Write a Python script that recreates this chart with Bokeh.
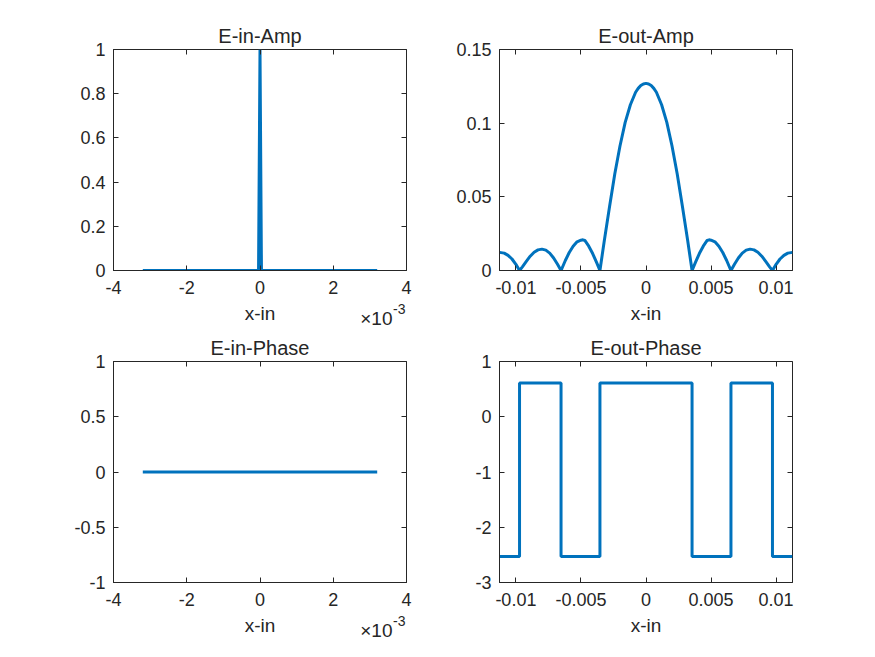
from bokeh.plotting import figure
from bokeh.layouts import column, row
from bokeh.models import (FixedTicker, CustomJSTickFormatter, LinearAxis, Range1d,
                          CustomLabelingPolicy, Title)
from bokeh.embed import file_html
from bokeh.resources import INLINE

# ---------------- data ----------------
# input field (x in metres)
x_in = [-3.2e-3, -0.04e-3, 0.0, 0.04e-3, 3.2e-3]
e_in_amp = [0.0, 0.0, 1.0, 0.0, 0.0]
e_in_phase = [0.0, 0.0, 0.0, 0.0, 0.0]

# output field amplitude
x_out = [-0.01126, -0.0109, -0.0106, -0.0103, -0.0100, -0.00972,
         -0.0095, -0.0092, -0.0089, -0.0086, -0.0083, -0.0080, -0.0077,
         -0.0074, -0.0071, -0.0068, -0.00653,
         -0.0062, -0.0059, -0.0056, -0.0053, -0.0050, -0.00485, -0.0047,
         -0.0044, -0.0041, -0.0038, -0.00354,
         -0.0032, -0.0028, -0.0024, -0.0020, -0.0016, -0.0012, -0.0008,
         -0.0006, -0.0004, -0.0002, 0.0,
         0.0002, 0.0004, 0.0006, 0.0008, 0.0012, 0.0016, 0.0020, 0.0024,
         0.0028, 0.0032, 0.00354,
         0.0038, 0.0041, 0.0044, 0.0047, 0.00485, 0.0050, 0.0053, 0.0056,
         0.0059, 0.0062, 0.00653,
         0.0068, 0.0071, 0.0074, 0.0077, 0.0080, 0.0083, 0.0086, 0.0089,
         0.0092, 0.0095, 0.00972,
         0.0100, 0.0103, 0.0106, 0.0109, 0.01126]
e_out_amp = [0.0123, 0.0118, 0.0103, 0.0078, 0.0042, 0.0,
             0.0025, 0.0062, 0.0097, 0.0124, 0.0140, 0.0145, 0.0138,
             0.0118, 0.0085, 0.0042, 0.0,
             0.0068, 0.0122, 0.0165, 0.0195, 0.0206, 0.0208, 0.0204,
             0.0165, 0.0115, 0.0055, 0.0,
             0.0205, 0.0435, 0.0655, 0.0845, 0.1005, 0.1125, 0.1210,
             0.1236, 0.1255, 0.1266, 0.1270,
             0.1266, 0.1255, 0.1236, 0.1210, 0.1125, 0.1005, 0.0845, 0.0655,
             0.0435, 0.0205, 0.0,
             0.0055, 0.0115, 0.0165, 0.0204, 0.0208, 0.0206, 0.0195, 0.0165,
             0.0122, 0.0068, 0.0,
             0.0042, 0.0085, 0.0118, 0.0138, 0.0145, 0.0140, 0.0124, 0.0097,
             0.0062, 0.0025, 0.0,
             0.0042, 0.0078, 0.0103, 0.0118, 0.0123]

# output field phase: step edges and levels
phase_edges = [-0.01126, -0.00972, -0.00653, -0.00354, 0.00354, 0.00653, 0.00972, 0.01126]
phase_levels = [-2.53, 0.61, -2.53, 0.61, -2.53, 0.61, -2.53, -2.53]

# ticks
ticks_in_x = [-4e-3, -2e-3, 0.0, 2e-3, 4e-3]
ticks_amp_in_y = [0, 0.2, 0.4, 0.6, 0.8, 1.0]
ticks_phase_in_y = [-1, -0.5, 0, 0.5, 1]
ticks_out_x = [-0.01, -0.005, 0.0, 0.005, 0.01]
ticks_amp_out_y = [0, 0.05, 0.1, 0.15]
ticks_phase_out_y = [-3, -2, -1, 0, 1]

# ---------------- style ----------------
FONT = "Liberation Sans"
TXT = "#262626"
BLUE = "#0072BD"
TICK_FS = "18px"
LABEL_FS = "19px"
TITLE_FS = "20px"

fmt_milli = CustomJSTickFormatter(code="return String(Math.round(tick*1000));")
fmt_plain = CustomJSTickFormatter(code="return String(parseFloat(tick.toFixed(6)));")


def style_axis(ax, ticks, fmt, standoff, show_labels=True):
    ax.ticker = FixedTicker(ticks=ticks)
    ax.minor_tick_line_color = None
    ax.major_tick_in = 5
    ax.major_tick_out = 0
    ax.major_tick_line_color = TXT
    ax.axis_line_color = TXT
    ax.major_label_text_font = FONT
    ax.major_label_text_color = TXT
    ax.major_label_standoff = standoff
    if show_labels:
        ax.major_label_text_font_size = TICK_FS
    else:
        ax.major_label_text_font_size = "1px"
        ax.major_label_policy = CustomLabelingPolicy(code="return []")
    if fmt is not None:
        ax.formatter = fmt


def make(title, xr, yr, xt, yt, xfmt, yfmt, bl, br, bt, bb):
    p = figure(frame_width=293, frame_height=221,
               x_range=Range1d(*xr), y_range=Range1d(*yr),
               output_backend="svg", toolbar_location=None,
               min_border_left=bl, min_border_right=br,
               min_border_top=bt, min_border_bottom=bb)
    p.title.text = title
    p.title.text_font = FONT
    p.title.text_font_size = TITLE_FS
    p.title.text_font_style = "normal"
    p.title.text_color = TXT
    p.title.align = "center"
    p.title.standoff = -3
    p.grid.visible = False
    p.outline_line_color = TXT
    p.outline_line_width = 1
    p.background_fill_color = "white"
    p.border_fill_color = "white"
    style_axis(p.xaxis[0], xt, xfmt, 10)
    style_axis(p.yaxis[0], yt, yfmt, 8)
    p.xaxis[0].axis_label = "x-in"
    p.xaxis[0].axis_label_text_font = FONT
    p.xaxis[0].axis_label_text_font_size = LABEL_FS
    p.xaxis[0].axis_label_text_font_style = "normal"
    p.xaxis[0].axis_label_text_color = TXT
    p.xaxis[0].axis_label_standoff = 6
    top = LinearAxis()
    style_axis(top, xt, None, 0, show_labels=False)
    top.axis_line_color = None
    p.add_layout(top, "above")
    right = LinearAxis()
    style_axis(right, yt, None, 0, show_labels=False)
    right.axis_line_color = None
    p.add_layout(right, "right")
    return p


def add_exp(p):
    # "x10" with a raised "-3" exponent, as in the MATLAB axis multiplier
    p.add_layout(Title(text="×10", align="right", offset=14, vertical_align="top",
                       standoff=-38, text_font=FONT, text_font_size="19px",
                       text_font_style="normal", text_color=TXT), "below")
    p.add_layout(Title(text="-3", align="right", offset=1, vertical_align="top",
                       standoff=-46, text_font=FONT, text_font_size="14px",
                       text_font_style="normal", text_color=TXT), "below")


p1 = make("E-in-Amp", (-4e-3, 4e-3), (0, 1), ticks_in_x, ticks_amp_in_y,
          fmt_milli, fmt_plain, 113, 46, 49, 62)
p1.line(x_in, e_in_amp, line_color=BLUE, line_width=3)
add_exp(p1)

p2 = make("E-out-Amp", (-0.01126, 0.01126), (0, 0.15), ticks_out_x, ticks_amp_out_y,
          fmt_plain, fmt_plain, 47, 75, 49, 62)
p2.line(x_out, e_out_amp, line_color=BLUE, line_width=3)

p3 = make("E-in-Phase", (-4e-3, 4e-3), (-1, 1), ticks_in_x, ticks_phase_in_y,
          fmt_milli, fmt_plain, 113, 46, 29, 70)
p3.line(x_in, e_in_phase, line_color=BLUE, line_width=3)
add_exp(p3)

p4 = make("E-out-Phase", (-0.01126, 0.01126), (-3, 1), ticks_out_x, ticks_phase_out_y,
          fmt_plain, fmt_plain, 47, 75, 29, 70)
p4.step(phase_edges, phase_levels, mode="after", line_color=BLUE, line_width=3)

layout = column(row(p1, p2), row(p3, p4))

with open("out.html", "w") as f:
    f.write(file_html(layout, INLINE))
